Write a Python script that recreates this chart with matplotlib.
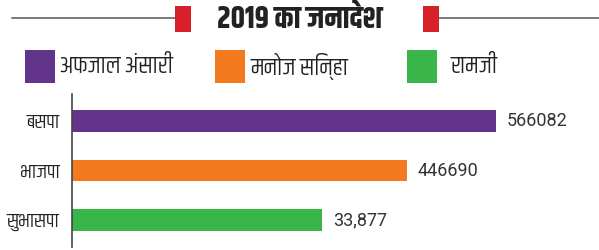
import matplotlib
matplotlib.use("Agg")
import matplotlib.pyplot as plt
from matplotlib.patches import Rectangle
from matplotlib.lines import Line2D

# data
parties = ["बसपा", "भाजपा", "सुभासपा"]
candidates = ["अफजाल अंसारी", "मनोज सिन्हा", "रामजी"]
votes = [566082, 446690, 333877]
vote_labels = ["566082", "446690", "33,877"]
colors = ["#62358a", "#f47a20", "#39b54a"]

W, H = 599, 250
fig = plt.figure(figsize=(W / 100, H / 100), dpi=100)

def px(x, y):
    # pixel (from top-left) -> figure fraction
    return x / W, 1 - y / H

hindi = ["Khand", "Roboto", "DejaVu Sans"]

# header: lines, red markers, title
for x0, x1 in [(12, 175), (439, 599)]:
    fig.add_artist(Line2D([x0 / W, x1 / W], [1 - 18 / H] * 2, color="#555555", lw=1.1))
for x0 in [175, 423]:
    fig.add_artist(Rectangle(px(x0, 32), 16 / W, 26 / H, color="#d7202a", lw=0))
fig.text(300 / W, 1 - 19 / H, "2019 का जनादेश", ha="center", va="center",
         fontsize=22, fontweight="bold", family=["Khand", "Yantramanav"], color="#222222")

# legend
for x0, xt, name, c in zip([25, 215, 407], [60, 250, 450], candidates, colors):
    fig.add_artist(Rectangle(px(x0, 83), 30 / W, 33 / H, color=c, lw=0))
    fig.text(xt / W, 1 - 66 / H, name, ha="left", va="center", fontsize=17,
             family=hindi, color="#222222")

# bars
ax = fig.add_axes([72 / W, 1 - 247 / H, (W - 72) / W, 153 / H])
y = range(len(parties))
ax.barh(y, votes, height=0.444, color=colors)
ax.set_ylim(2.545, -0.545)
ax.set_xlim(0, 566082 * 527 / 424)
for yi, v, lab in zip(y, votes, vote_labels):
    ax.text(v + 566082 * 11 / 424, yi, lab, va="center", ha="left", fontsize=13,
            family=["Roboto"], color="#333333")
ax.set_yticks(list(y))
ax.set_yticklabels(parties, fontsize=14.5, family=hindi, color="#222222")
ax.tick_params(axis="y", length=0, pad=9)
ax.set_xticks([])
for s in ["top", "right", "bottom"]:
    ax.spines[s].set_visible(False)
ax.spines["left"].set_color("#444444")
ax.spines["left"].set_linewidth(1.2)

fig.savefig("out.png", dpi=100)
